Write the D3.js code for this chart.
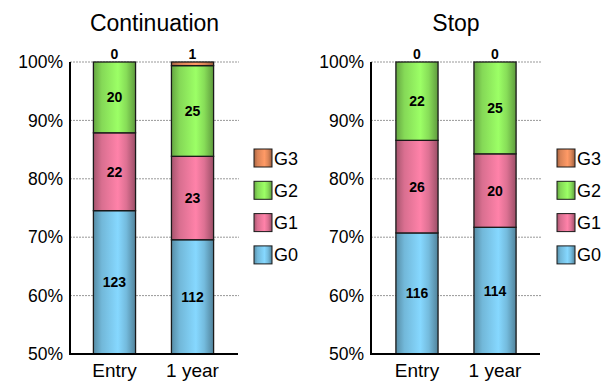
<!DOCTYPE html>
<html>
<head>
<meta charset="utf-8">
<script src="https://cdn.jsdelivr.net/npm/d3@7"></script>
<style>
  html, body { margin: 0; padding: 0; background: #fff; }
  svg { display: block; font-family: "Liberation Sans", Arial, sans-serif; }
</style>
</head>
<body>
<svg id="chart" width="605" height="382"></svg>
<script>
// Timepoints on the x axis
const categories = ["Entry", "1 year"];
// Grades, stacked bottom to top
const grades = ["G0", "G1", "G2", "G3"];
// Patient counts per grade for each group
const continuationG0 = [123, 112];
const continuationG1 = [22, 23];
const continuationG2 = [20, 25];
const continuationG3 = [0, 1];
const stopG0 = [116, 114];
const stopG1 = [26, 20];
const stopG2 = [22, 25];
const stopG3 = [0, 0];
const panelTitles = ["Continuation", "Stop"];
const yTicks = [50, 60, 70, 80, 90, 100];

const panels = [
  { title: panelTitles[0], series: [continuationG0, continuationG1, continuationG2, continuationG3] },
  { title: panelTitles[1], series: [stopG0, stopG1, stopG2, stopG3] }
];

const gradeColors = { G0: "#86d8ff", G1: "#ff82a9", G2: "#9cff66", G3: "#ff9a66" };

const svg = d3.select("#chart");
const defs = svg.append("defs");

// Horizontal shading: darker edges, bright band right of centre
grades.forEach(g => {
  const base = d3.rgb(gradeColors[g]);
  const grad = defs.append("linearGradient")
    .attr("id", "grad-" + g)
    .attr("x1", "0%").attr("x2", "100%").attr("y1", "0%").attr("y2", "0%");
  grad.append("stop").attr("offset", "0%").attr("stop-color", base.darker(1.2));
  grad.append("stop").attr("offset", "20%").attr("stop-color", base.darker(0.45));
  grad.append("stop").attr("offset", "58%").attr("stop-color", base);
  grad.append("stop").attr("offset", "78%").attr("stop-color", base.darker(0.4));
  grad.append("stop").attr("offset", "100%").attr("stop-color", base.darker(1.4));
});

const layout = [
  { axisX: 70, bandStart: 70, right: 239, legendX: 254 },
  { axisX: 371, bandStart: 372.5, right: 541, legendX: 557 }
];
const plotTop = 62, plotBottom = 354;

const y = d3.scaleLinear().domain([50, 100]).range([plotBottom, plotTop]);

panels.forEach((panel, pi) => {
  const L = layout[pi];
  const g = svg.append("g");

  const x = d3.scaleBand()
    .domain(categories)
    .range([L.bandStart, L.bandStart + 167])
    .paddingInner(0.46)
    .paddingOuter(0.3);

  // Title
  g.append("text")
    .attr("x", (L.axisX + L.right) / 2)
    .attr("y", 30.5)
    .attr("text-anchor", "middle")
    .attr("font-size", 23)
    .attr("fill", "#000")
    .text(panel.title);

  // Gridlines
  g.append("g").selectAll("line")
    .data(yTicks.filter(t => t > 50))
    .join("line")
    .attr("x1", L.axisX).attr("x2", L.right)
    .attr("y1", d => y(d)).attr("y2", d => y(d))
    .attr("stroke", "#999")
    .attr("stroke-width", 1)
    .attr("stroke-dasharray", "2,1");

  // Y axis labels
  const yAxis = d3.axisLeft(y)
    .tickValues(yTicks)
    .tickFormat(d => d + "%")
    .tickSize(0)
    .tickPadding(7);
  const ya = g.append("g")
    .attr("transform", `translate(${L.axisX},0)`)
    .call(yAxis);
  ya.select(".domain").remove();
  ya.selectAll("text")
    .attr("font-size", 17.5)
    .attr("font-family", "Liberation Sans, Arial, sans-serif")
    .attr("fill", "#000");

  // X axis labels
  const xAxis = d3.axisBottom(x).tickSize(0).tickPadding(10);
  const xa = g.append("g")
    .attr("transform", `translate(0,${plotBottom})`)
    .call(xAxis);
  xa.select(".domain").remove();
  xa.selectAll("text")
    .attr("font-size", 19)
    .attr("font-family", "Liberation Sans, Arial, sans-serif")
    .attr("fill", "#000");

  // Stacked bars (percent of total)
  categories.forEach((cat, ci) => {
    const counts = panel.series.map(s => s[ci]);
    const total = d3.sum(counts);
    let cum = 0;
    const segs = counts.map((v, gi) => {
      const lo = cum / total * 100;
      cum += v;
      const hi = cum / total * 100;
      return { grade: grades[gi], value: v, lo, hi };
    });
    const bx = x(cat), bw = x.bandwidth();
    segs.forEach(s => {
      const y0 = y(Math.max(s.lo, 50));
      const y1 = y(s.hi);
      if (s.value > 0) {
        g.append("rect")
          .attr("x", bx).attr("y", y1)
          .attr("width", bw).attr("height", Math.max(0, y0 - y1))
          .attr("fill", `url(#grad-${s.grade})`)
          .attr("stroke", "#1a1a1a")
          .attr("stroke-width", 1.3);
      }
    });
    // Value labels
    segs.forEach(s => {
      let ly;
      if (s.grade === "G3") {
        ly = y(100) - 3;
      } else {
        ly = (y(Math.max(s.lo, 50)) + y(s.hi)) / 2 + 5;
      }
      g.append("text")
        .attr("x", bx + bw / 2)
        .attr("y", ly)
        .attr("text-anchor", "middle")
        .attr("font-size", 14)
        .attr("font-weight", "bold")
        .attr("fill", "#000")
        .text(s.value);
    });
  });

  // Axis lines
  g.append("line")
    .attr("x1", L.axisX).attr("x2", L.axisX)
    .attr("y1", plotTop).attr("y2", plotBottom + 1)
    .attr("stroke", "#000").attr("stroke-width", 2);
  g.append("line")
    .attr("x1", L.axisX).attr("x2", L.right - 1)
    .attr("y1", plotBottom).attr("y2", plotBottom)
    .attr("stroke", "#000").attr("stroke-width", 2);

  // Legend, G3 on top
  const legendGrades = grades.slice().reverse();
  const lg = g.append("g").selectAll("g")
    .data(legendGrades)
    .join("g")
    .attr("transform", (d, i) => `translate(${L.legendX},${149 + i * 32.3})`);
  lg.append("rect")
    .attr("width", 18).attr("height", 18)
    .attr("fill", d => `url(#grad-${d})`)
    .attr("stroke", "#1a1a1a").attr("stroke-width", 1);
  lg.append("text")
    .attr("x", 20).attr("y", 15.5)
    .attr("font-size", 18)
    .attr("fill", "#000")
    .text(d => d);
});
</script>
</body>
</html>
